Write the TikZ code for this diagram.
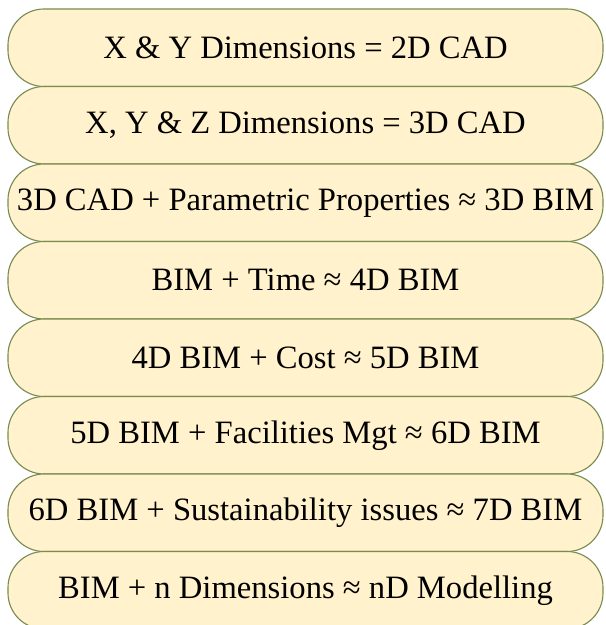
\documentclass[tikz,border=0pt]{standalone}
\usepackage{fontspec}
\setmainfont{Liberation Serif}
\definecolor{dimfill}{RGB}{255,242,204}
\definecolor{dimline}{RGB}{122,140,82}
\begin{document}
\begin{tikzpicture}[dim/.style={draw=dimline, fill=dimfill, line width=0.8pt,
    rounded corners=0.9cm, minimum width=14.875cm, minimum height=1.9375cm,
    inner sep=0pt, font=\fontsize{23.2}{27}\selectfont}]
  \useasboundingbox (0,0) rectangle (15.125,-15.625);
  \foreach \i/\txt in {
    1/{X \& Y Dimensions = 2D CAD},
    2/{X, Y \& Z Dimensions = 3D CAD},
    3/{3D CAD + Parametric Properties ≈ 3D BIM},
    4/{BIM + Time ≈ 4D BIM},
    5/{4D BIM + Cost ≈ 5D BIM},
    6/{5D BIM + Facilities Mgt ≈ 6D BIM},
    7/{6D BIM + Sustainability issues ≈ 7D BIM},
    8/{BIM + n Dimensions ≈ nD Modelling}} {
    \node[dim] (d\i) at (7.6375, {-0.225-1.9375*(\i-0.5)}) {\txt};
  }
\end{tikzpicture}
\end{document}
